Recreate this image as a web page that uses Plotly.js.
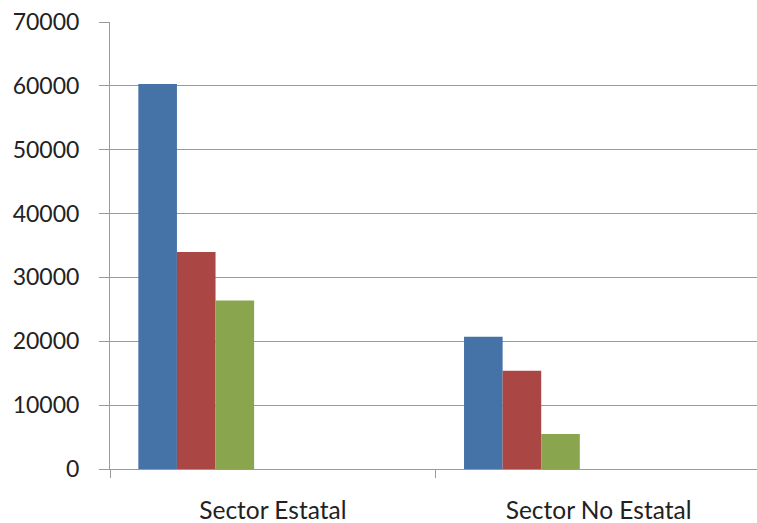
<!DOCTYPE html>
<html>
<head>
<meta charset="utf-8">
<script src="https://cdn.plot.ly/plotly-3.0.1.min.js"></script>
<style>html,body{margin:0;padding:0;background:#fff;}#chart{width:757px;height:523px;}</style>
</head>
<body>
<div id="chart"></div>
<script>
var categories = ["Sector Estatal", "Sector No Estatal"];
var series1 = [60300, 20700];
var series2 = [34000, 15400];
var series3 = [26400, 5500];
var yTicks = [0, 10000, 20000, 30000, 40000, 50000, 60000, 70000];

var colors = ["#4572A7", "#AA4643", "#89A54E"];
var barW = 0.1185;
var startOff = -0.413;
var allSeries = [series1, series2, series3];
var traces = allSeries.map(function (vals, i) {
  return {
    type: "bar",
    x: categories,
    y: vals,
    width: barW,
    offset: startOff + i * barW,
    marker: { color: colors[i], line: { width: 0 } },
    showlegend: false,
    hoverinfo: "x+y"
  };
});

var layout = {
  width: 757,
  height: 523,
  margin: { l: 110, r: 0, t: 22, b: 54 },
  paper_bgcolor: "#ffffff",
  plot_bgcolor: "#ffffff",
  font: { family: "Lato, 'Open Sans', sans-serif", size: 23, color: "#222222" },
  barmode: "overlay",
  xaxis: {
    type: "category",
    range: [-0.5, 1.4865],
    showline: true,
    linecolor: "#9a9a9a",
    linewidth: 1,
    ticks: "outside",
    tickson: "boundaries",
    ticklen: 8,
    tickcolor: "#9a9a9a",
    showgrid: false,
    zeroline: false,
    tickfont: { family: "Lato, 'Open Sans', sans-serif", size: 24.5, color: "#222222" },
    ticklabelstandoff: 20
  },
  yaxis: {
    range: [0, 70000],
    tickvals: yTicks,
    ticktext: yTicks.map(String),
    showline: true,
    linecolor: "#9a9a9a",
    linewidth: 1,
    ticks: "outside",
    ticklen: 10,
    tickcolor: "#9a9a9a",
    showgrid: true,
    gridcolor: "#9a9a9a",
    gridwidth: 1,
    zeroline: false,
    tickfont: { family: "Lato, 'Open Sans', sans-serif", size: 23, color: "#222222" },
    ticklabelstandoff: 15
  }
};

Plotly.newPlot("chart", traces, layout, { displayModeBar: false, staticPlot: true });
</script>
</body>
</html>
